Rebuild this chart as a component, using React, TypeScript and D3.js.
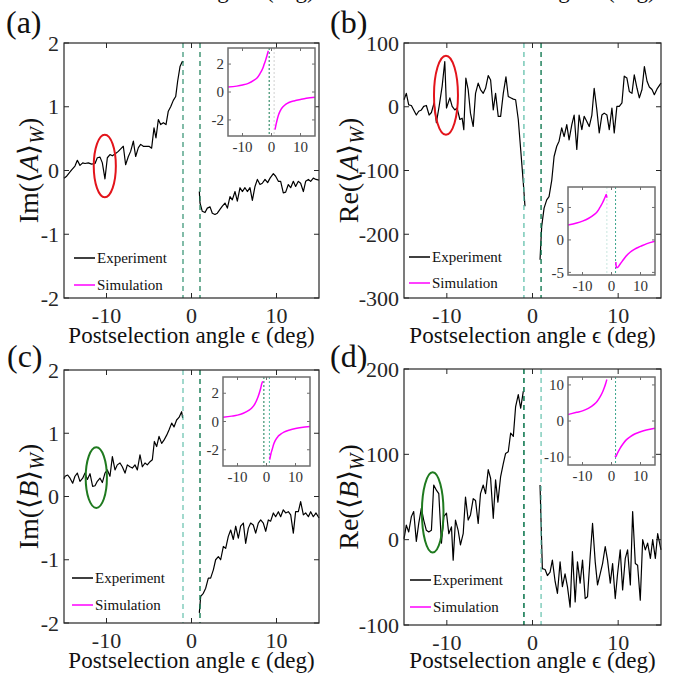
import React, { useEffect, useRef } from 'react';
import * as d3 from 'd3';

const FONT = '"Liberation Serif", "Times New Roman", serif';
const XTICKS = [-10, 0, 10];
const XLABEL = 'Postselection angle \u03f5 (deg)';

type Pt = [number, number];

// (a) Im<A>w, experiment, both sides of the gap
const A_IM_LEFT: Pt[] = [
  [-15, -0.12], [-14.69, -0.09], [-14.1, 0.01], [-13.71, 0.07], [-13.43, 0.16], [-13.12, 0.08],
  [-12.8, 0.12], [-12.53, 0.11], [-12.14, 0.12], [-11.75, 0.1], [-11.35, 0.11], [-11.08, 0.2],
  [-10.76, 0.21], [-10.49, 0.12], [-10.18, -0.13], [-9.9, 0.2], [-9.59, 0.25], [-9.31, 0.23],
  [-9.0, 0.26], [-8.61, 0.3], [-8.33, 0.34], [-8.02, 0.38], [-7.75, 0.09], [-7.43, 0.22],
  [-7.16, 0.3], [-6.84, 0.46], [-6.57, 0.22], [-6.25, 0.36], [-5.98, 0.41], [-5.67, 0.38],
  [-5.27, 0.38], [-5.0, 0.38], [-4.69, 0.35], [-4.41, 0.67], [-4.18, 0.51], [-3.9, 0.8],
  [-3.63, 0.72], [-3.31, 0.75], [-3.0, 0.72], [-2.73, 0.93], [-2.45, 1.0], [-2.14, 1.1],
  [-1.86, 1.16], [-1.63, 1.4], [-1.35, 1.63], [-1.08, 1.71], [-0.96, 1.7],
];
const A_IM_RIGHT: Pt[] = [
  [0.92, -0.33], [1.0, -0.51], [1.27, -0.64], [1.59, -0.66], [1.86, -0.59], [2.18, -0.57],
  [2.45, -0.67], [2.76, -0.69], [3.04, -0.67], [3.35, -0.61], [3.63, -0.56], [3.94, -0.51],
  [4.22, -0.59], [4.53, -0.41], [4.8, -0.46], [5.12, -0.33], [5.39, -0.48], [5.71, -0.27],
  [5.98, -0.33], [6.29, -0.27], [6.57, -0.33], [6.88, -0.27], [7.16, -0.47], [7.47, -0.25],
  [7.75, -0.14], [8.06, -0.22], [8.33, -0.2], [8.65, -0.14], [8.96, -0.19], [9.24, -0.12],
  [9.63, -0.05], [9.9, -0.09], [10.22, -0.17], [10.49, -0.17], [10.8, -0.35], [11.08, -0.34],
  [11.39, -0.22], [11.67, -0.27], [11.98, -0.17], [12.25, -0.25], [12.57, -0.17], [12.84, -0.2],
  [13.16, -0.33], [13.43, -0.17], [13.75, -0.14], [14.02, -0.17], [14.33, -0.12], [14.65, -0.14],
  [15, -0.15],
];

// (b) Re<A>w
const A_RE_LEFT: Pt[] = [
  [-15, 11], [-14.73, 21], [-14.45, 3], [-14.14, 2], [-13.87, -5], [-13.56, -13], [-13.28, -7],
  [-12.97, -5], [-12.7, 0.5], [-12.39, 2], [-12.07, -13], [-11.8, -9], [-11.49, 6], [-11.22, -25],
  [-10.9, 0.5], [-10.55, 32], [-10.24, 71], [-10.04, -2], [-9.65, 14], [-9.38, 0.5], [-9.07, -5],
  [-8.8, -2], [-8.48, -20], [-8.21, -18], [-8.02, -36], [-7.78, 45], [-7.51, 27], [-7.24, -10],
  [-6.92, -31], [-6.65, 21], [-6.34, 37], [-6.07, 27], [-5.75, 21], [-5.48, 29], [-5.17, 49],
  [-4.89, 42], [-4.58, -5], [-4.31, 21], [-4.0, -15], [-3.72, -15], [-3.41, 21], [-3.1, 47],
  [-2.83, 16], [-2.55, 14], [-2.24, 12], [-1.97, 11], [-1.66, -20], [-1.38, -67], [-1.07, -120],
  [-0.88, -156],
];
const A_RE_RIGHT: Pt[] = [
  [0.88, -240], [1.07, -188], [1.35, -159], [1.66, -146], [1.93, -141], [2.25, -115], [2.52, -78],
  [2.83, -62], [3.1, -54], [3.41, -33], [3.69, -47], [4.0, -28], [4.27, -52], [4.59, -28],
  [4.86, -13], [5.17, -67], [5.44, -13], [5.76, -36], [6.03, -15], [6.34, -23], [6.62, -31],
  [6.93, -13], [7.2, 29], [7.51, -5], [7.79, -41], [8.1, -13], [8.37, -10], [8.69, -13],
  [8.96, -36], [9.27, -2], [9.54, -41], [9.85, 0.5], [10.13, 0.5], [10.44, 6], [10.71, 48],
  [11.02, 45], [11.3, 24], [11.61, 21], [11.88, 50], [12.2, 29], [12.47, 14], [12.78, 27],
  [13.06, 63], [13.37, 40], [13.64, 31], [13.95, 27], [14.22, 19], [14.54, 28], [15, 37],
];

// (c) Im<B>w
const B_IM_LEFT: Pt[] = [
  [-15, 0.28], [-14.88, 0.32], [-14.57, 0.34], [-14.29, 0.29], [-13.98, 0.21], [-13.71, 0.32],
  [-13.43, 0.37], [-13.12, 0.24], [-12.8, 0.29], [-12.53, 0.37], [-12.25, 0.27], [-11.94, 0.36],
  [-11.63, 0.16], [-11.35, 0.17], [-11.08, 0.24], [-10.76, 0.29], [-10.49, 0.22], [-10.18, 0.37],
  [-9.9, 0.42], [-9.59, 0.32], [-9.31, 0.63], [-9.0, 0.42], [-8.73, 0.5], [-8.41, 0.53],
  [-8.14, 0.47], [-7.82, 0.37], [-7.55, 0.5], [-7.24, 0.47], [-6.96, 0.45], [-6.65, 0.5],
  [-6.37, 0.42], [-6.06, 0.66], [-5.78, 0.47], [-5.47, 0.53], [-5.2, 0.5], [-4.88, 0.55],
  [-4.61, 0.58], [-4.37, 0.87], [-4.1, 0.79], [-3.82, 0.95], [-3.51, 0.84], [-3.24, 0.89],
  [-2.92, 0.97], [-2.65, 1.05], [-2.33, 1.16], [-2.06, 1.1], [-1.75, 1.21], [-1.47, 1.25],
  [-1.16, 1.34], [-1.04, 1.24],
];
const B_IM_RIGHT: Pt[] = [
  [0.92, -1.84], [1.08, -1.58], [1.39, -1.53], [1.67, -1.45], [1.98, -1.29], [2.25, -1.29],
  [2.57, -1.16], [2.84, -1.0], [3.16, -0.95], [3.43, -1.0], [3.75, -0.79], [4.02, -0.82],
  [4.33, -0.63], [4.61, -0.53], [4.92, -0.68], [5.2, -0.47], [5.51, -0.66], [5.78, -0.47],
  [6.1, -0.42], [6.37, -0.74], [6.69, -0.5], [6.96, -0.42], [7.27, -0.45], [7.55, -0.58],
  [7.86, -0.42], [8.14, -0.37], [8.45, -0.42], [8.73, -0.55], [9.04, -0.37], [9.31, -0.39],
  [9.63, -0.26], [9.9, -0.32], [10.22, -0.24], [10.49, -0.32], [10.8, -0.21], [11.08, -0.26],
  [11.39, -0.24], [11.67, -0.29], [11.98, -0.58], [12.25, -0.24], [12.57, -0.24], [12.84, -0.08],
  [13.16, -0.29], [13.43, -0.26], [13.75, -0.32], [14.02, -0.24], [14.33, -0.32], [14.65, -0.26],
  [15, -0.34],
];

// (d) Re<B>w
const B_RE_LEFT: Pt[] = [
  [-15, 1], [-14.73, 17], [-14.45, 9], [-14.14, 27], [-13.87, 33], [-13.56, -2], [-13.28, 19],
  [-12.97, 37], [-12.7, 23], [-12.39, 11], [-12.11, 9], [-11.8, 11], [-11.53, 64], [-11.22, 58],
  [-10.94, 54], [-10.63, -4], [-10.36, 27], [-10.04, 31], [-9.77, 7], [-9.46, 15], [-9.26, -24],
  [-8.99, 23], [-8.68, 11], [-8.41, -6], [-8.09, 7], [-7.82, 50], [-7.51, 23], [-7.24, 29],
  [-6.92, 48], [-6.65, 46], [-6.34, 19], [-6.07, 54], [-5.75, 64], [-5.48, 54], [-5.17, 82],
  [-4.89, 72], [-4.58, 25], [-4.31, 70], [-4.04, 44], [-3.72, 74], [-3.41, 89], [-3.14, 101],
  [-2.83, 103], [-2.55, 125], [-2.24, 121], [-1.97, 156], [-1.66, 170], [-1.38, 154], [-1.07, 174],
];
const B_RE_RIGHT: Pt[] = [
  [0.88, 64], [1.15, -34], [1.47, -35], [1.74, -42], [2.05, -38], [2.32, -24], [2.64, -49],
  [2.91, -63], [3.22, -26], [3.49, -55], [3.8, -40], [4.08, -55], [4.39, -79], [4.66, -14],
  [4.98, -73], [5.25, -26], [5.56, -51], [5.84, -24], [6.15, -69], [6.42, -67], [6.73, -20],
  [7.01, 19], [7.32, -26], [7.59, -53], [7.9, -40], [8.18, -28], [8.49, -8], [8.76, -24],
  [9.08, -51], [9.35, -28], [9.66, -69], [9.93, -40], [10.24, -12], [10.52, -59], [10.83, -22],
  [11.1, -12], [11.42, -53], [11.69, 33], [12.0, -28], [12.27, -30], [12.58, -71], [12.86, 0],
  [13.17, -12], [13.44, -4], [13.76, -22], [14.03, 0], [14.34, -22], [14.61, 7], [15, -12],
];

// simulation curves shown in the insets
const SIM_A_IM_L: Pt[] = [[-15, 0.35], [-12, 0.42], [-10, 0.5], [-8, 0.62], [-6, 0.85], [-5, 1.0], [-4, 1.3], [-3, 1.7], [-2.5, 2.0], [-2, 2.3], [-1.5, 2.65], [-1.1, 2.95]];
const SIM_A_IM_R: Pt[] = [[1.2, -2.7], [1.6, -2.3], [2, -1.95], [2.5, -1.6], [3, -1.35], [4, -1.05], [5, -0.87], [6, -0.75], [8, -0.62], [10, -0.53], [12, -0.45], [15, -0.38]];
const SIM_A_RE_L: Pt[] = [[-15, 2.3], [-12, 2.6], [-10, 2.9], [-8, 3.3], [-6, 3.9], [-5, 4.3], [-4, 5.0], [-3, 5.8], [-2.5, 6.3], [-2, 6.8], [-1.8, 7.0], [-1.6, 6.5]];
const SIM_A_RE_R: Pt[] = [[1.5, -3.4], [1.6, -4.0], [1.8, -4.3], [2.2, -4.2], [3, -3.7], [4, -3.1], [5, -2.5], [6.4, -1.9], [8, -1.4], [10, -1.0], [12, -0.6], [15, -0.2]];
const SIM_B_IM_L: Pt[] = [[-15, 0.3], [-12, 0.38], [-10, 0.45], [-8, 0.58], [-6, 0.8], [-5, 0.97], [-4, 1.25], [-3, 1.7], [-2.5, 2.0], [-2, 2.35], [-1.6, 2.7], [-1.3, 2.85]];
const SIM_B_IM_R: Pt[] = [[1.1, -2.7], [1.5, -2.3], [2, -1.95], [2.5, -1.6], [3, -1.35], [4, -1.05], [5, -0.88], [6, -0.75], [8, -0.6], [10, -0.5], [12, -0.43], [15, -0.36]];
const SIM_B_RE_L: Pt[] = [[-15, 1.8], [-12, 2.4], [-10, 2.8], [-8, 3.5], [-6, 4.6], [-5, 5.4], [-4, 6.6], [-3, 8.2], [-2.5, 9.2], [-2, 10.4], [-1.6, 11.5]];
const SIM_B_RE_R: Pt[] = [[1.2, -9.6], [1.5, -9.9], [2, -9.0], [3, -7.5], [4, -6.3], [5, -5.3], [6.4, -4.4], [8, -3.6], [10, -3.0], [12, -2.5], [15, -2.0]];

const DARK = '#137a52';
const LIGHT = '#55bba5';

const PANELS = [
  {
    label: '(a)', lx: 6, ly: 33, name: 'Im', op: 'A', ylx: 38,
    box: [64, 319, 43, 298], yDomain: [-2, 2], yTicks: [-2, -1, 0, 1, 2],
    left: A_IM_LEFT, right: A_IM_RIGHT,
    dashes: [[-1, '#2f8f6f', 1.2], [1, DARK, 1.2]],
    ellipse: { cx: -10.2, cy: 0.07, wx: 1.3, hy: 0.49, color: '#e3141b' },
    legend: { dx: 10, y1: -40, y2: -13 }, xly: 343,
    inset: {
      box: [228, 315, 48, 136], yDomain: [-3.15, 3.15], yTicks: [-2, 0, 2],
      left: SIM_A_IM_L, right: SIM_A_IM_R, lines: [[-0.8, DARK], [0.9, '#d0d0d0']],
    },
  },
  {
    label: '(b)', lx: 330, ly: 33, name: 'Re', op: 'A', ylx: 358,
    box: [404, 661, 43, 298], yDomain: [-300, 100], yTicks: [-300, -200, -100, 0, 100],
    left: A_RE_LEFT, right: A_RE_RIGHT,
    dashes: [[-1, LIGHT, 1.2], [1, DARK, 1.4]],
    ellipse: { cx: -10.1, cy: 18, wx: 1.4, hy: 62, color: '#e3141b' },
    legend: { dx: 5, y1: -41, y2: -15 }, xly: 343,
    inset: {
      box: [568, 655, 187, 275], yDomain: [-5.4, 8.15], yTicks: [-5, 0, 5],
      left: SIM_A_RE_L, right: SIM_A_RE_R, lines: [[-1.6, '#c8e6df'], [1.4, '#3aa58c']],
    },
  },
  {
    label: '(c)', lx: 7, ly: 367, name: 'Im', op: 'B', ylx: 38,
    box: [64, 319, 370, 623], yDomain: [-2, 2], yTicks: [-2, -1, 0, 1, 2],
    left: B_IM_LEFT, right: B_IM_RIGHT,
    dashes: [[-1, LIGHT, 1.1], [1, DARK, 1.4]],
    ellipse: { cx: -11.2, cy: 0.3, wx: 1.25, hy: 0.48, color: '#1f7a1f' },
    legend: { dx: 8, y1: -45, y2: -18 }, xly: 668,
    inset: {
      box: [223, 310, 377, 466], yDomain: [-3.15, 3.15], yTicks: [-2, 0, 2],
      left: SIM_B_IM_L, right: SIM_B_IM_R, lines: [[-0.9, DARK], [1.0, '#4fb8a0']],
    },
  },
  {
    label: '(d)', lx: 330, ly: 367, name: 'Re', op: 'B', ylx: 358,
    box: [404, 661, 369, 625], yDomain: [-100, 200], yTicks: [-100, 0, 100, 200],
    left: B_RE_LEFT, right: B_RE_RIGHT,
    dashes: [[-1, DARK, 1.6], [1, LIGHT, 1.1]],
    ellipse: { cx: -11.65, cy: 32, wx: 1.26, hy: 47, color: '#1f7a1f' },
    legend: { dx: 6, y1: -45, y2: -18 }, xly: 668,
    inset: {
      box: [568, 655, 377, 465], yDomain: [-12.2, 12.2], yTicks: [-10, 0, 10],
      left: SIM_B_RE_L, right: SIM_B_RE_R, lines: [[1.4, '#3aa58c']],
    },
  },
];

function drawTicks(g: any, x: any, y: any, box: number[], yTicks: number[], len: number, color: string, width: number) {
  const [x0, x1, y0, y1] = box;
  XTICKS.forEach(t => {
    g.append('line').attr('x1', x(t)).attr('x2', x(t)).attr('y1', y1).attr('y2', y1 - len).attr('stroke', color).attr('stroke-width', width);
    g.append('line').attr('x1', x(t)).attr('x2', x(t)).attr('y1', y0).attr('y2', y0 + len).attr('stroke', color).attr('stroke-width', width);
  });
  yTicks.forEach(t => {
    g.append('line').attr('x1', x0).attr('x2', x0 + len).attr('y1', y(t)).attr('y2', y(t)).attr('stroke', color).attr('stroke-width', width);
    g.append('line').attr('x1', x1).attr('x2', x1 - len).attr('y1', y(t)).attr('y2', y(t)).attr('stroke', color).attr('stroke-width', width);
  });
}

function drawPanel(svg: any, p: any) {
  const [x0, x1, y0, y1] = p.box;
  const x = d3.scaleLinear().domain([-15, 15]).range([x0, x1]);
  const y = d3.scaleLinear().domain(p.yDomain).range([y1, y0]);
  const line = d3.line<Pt>().x(d => x(d[0])).y(d => y(d[1]));
  const g = svg.append('g');

  g.append('rect').attr('x', x0).attr('y', y0).attr('width', x1 - x0).attr('height', y1 - y0).attr('fill', '#fff');

  [p.left, p.right].forEach((data: Pt[]) => {
    g.append('path').datum(data).attr('d', line).attr('fill', 'none')
      .attr('stroke', '#000').attr('stroke-width', 1.2).attr('stroke-linejoin', 'round');
  });

  p.dashes.forEach(([v, c, w]: any) => {
    g.append('line').attr('x1', x(v)).attr('x2', x(v)).attr('y1', y0).attr('y2', y1)
      .attr('stroke', c).attr('stroke-width', w).attr('stroke-dasharray', '5,4');
  });

  const e = p.ellipse;
  g.append('ellipse').attr('cx', x(e.cx)).attr('cy', y(e.cy))
    .attr('rx', x(e.cx + e.wx) - x(e.cx)).attr('ry', y(e.cy) - y(e.cy + e.hy))
    .attr('fill', 'none').attr('stroke', e.color).attr('stroke-width', 2);

  g.append('rect').attr('x', x0).attr('y', y0).attr('width', x1 - x0).attr('height', y1 - y0)
    .attr('fill', 'none').attr('stroke', '#262626').attr('stroke-width', 1.2);
  drawTicks(g, x, y, p.box, p.yTicks, 5, '#262626', 1);

  XTICKS.forEach(t => {
    g.append('text').attr('x', x(t)).attr('y', y1 + 25).attr('text-anchor', 'middle')
      .attr('font-family', FONT).attr('font-size', 22).attr('fill', '#262626').text(String(t));
  });
  p.yTicks.forEach((t: number) => {
    g.append('text').attr('x', x0 - 5).attr('y', y(t)).attr('dy', '0.35em').attr('text-anchor', 'end')
      .attr('font-family', FONT).attr('font-size', 22).attr('fill', '#262626').text(String(t));
  });

  // legend
  const lg = p.legend;
  [['Experiment', '#000', lg.y1], ['Simulation', '#ff00ff', lg.y2]].forEach(([txt, c, dy]: any) => {
    g.append('line').attr('x1', x0 + lg.dx).attr('x2', x0 + lg.dx + 21).attr('y1', y1 + dy).attr('y2', y1 + dy)
      .attr('stroke', c).attr('stroke-width', 1.5);
    g.append('text').attr('x', x0 + lg.dx + 23).attr('y', y1 + dy + 5).attr('font-family', FONT)
      .attr('font-size', 15).attr('fill', '#111').text(txt);
  });

  // inset
  const ins = p.inset;
  const [ix0, ix1, iy0, iy1] = ins.box;
  const ix = d3.scaleLinear().domain([-15, 15]).range([ix0, ix1]);
  const iy = d3.scaleLinear().domain(ins.yDomain).range([iy1, iy0]);
  const iline = d3.line<Pt>().x(d => ix(d[0])).y(d => iy(d[1]));
  g.append('rect').attr('x', ix0).attr('y', iy0).attr('width', ix1 - ix0).attr('height', iy1 - iy0).attr('fill', '#fff');
  ins.lines.forEach(([v, c]: any) => {
    g.append('line').attr('x1', ix(v)).attr('x2', ix(v)).attr('y1', iy0).attr('y2', iy1)
      .attr('stroke', c).attr('stroke-width', 1).attr('stroke-dasharray', '2,2');
  });
  [ins.left, ins.right].forEach((data: Pt[]) => {
    g.append('path').datum(data).attr('d', iline.curve(d3.curveMonotoneX)).attr('fill', 'none')
      .attr('stroke', '#ff00ff').attr('stroke-width', 1.5);
  });
  g.append('rect').attr('x', ix0).attr('y', iy0).attr('width', ix1 - ix0).attr('height', iy1 - iy0)
    .attr('fill', 'none').attr('stroke', '#6e6e6e').attr('stroke-width', 1.5);
  drawTicks(g, ix, iy, ins.box, ins.yTicks, 3, '#6e6e6e', 1);
  XTICKS.forEach(t => {
    g.append('text').attr('x', ix(t)).attr('y', iy1 + 16).attr('text-anchor', 'middle')
      .attr('font-family', FONT).attr('font-size', 15).attr('fill', '#333').text(String(t));
  });
  ins.yTicks.forEach((t: number) => {
    g.append('text').attr('x', ix0 - 4).attr('y', iy(t)).attr('dy', '0.35em').attr('text-anchor', 'end')
      .attr('font-family', FONT).attr('font-size', 15).attr('fill', '#333').text(String(t));
  });

  // labels
  g.append('text').attr('x', (x0 + x1) / 2).attr('y', p.xly).attr('text-anchor', 'middle')
    .attr('font-family', FONT).attr('font-size', 23).attr('fill', '#111').text(XLABEL);

  const t = g.append('text').attr('transform', `translate(${p.ylx},${(y0 + y1) / 2}) rotate(-90)`)
    .attr('text-anchor', 'middle').attr('font-family', FONT).attr('font-size', 28).attr('fill', '#111');
  t.append('tspan').text(`${p.name}(\u27e8`);
  t.append('tspan').attr('font-style', 'italic').text(p.op);
  t.append('tspan').text('\u27e9');
  t.append('tspan').attr('font-style', 'italic').attr('font-size', 20).attr('dy', 6).text('W');
  t.append('tspan').attr('dy', -6).text(')');

  g.append('text').attr('x', p.lx).attr('y', p.ly).attr('font-family', FONT)
    .attr('font-size', 32).attr('fill', '#111').text(p.label);
}

export default function App() {
  const ref = useRef<SVGSVGElement | null>(null);

  useEffect(() => {
    const svg = d3.select(ref.current);
    svg.selectAll('*').remove();
    svg.append('rect').attr('width', 680).attr('height', 676).attr('fill', '#fff');
    // cut-off axis labels of the row above
    [191.5, 532.5].forEach(cx => {
      svg.append('text').attr('x', cx).attr('y', -2).attr('text-anchor', 'middle')
        .attr('font-family', FONT).attr('font-size', 23).attr('fill', '#111').text(XLABEL);
    });
    PANELS.forEach(p => drawPanel(svg, p));
  }, []);

  return (
    <svg ref={ref} width={680} height={676} style={{ position: 'absolute', left: 0, top: 0 }} />
  );
}
